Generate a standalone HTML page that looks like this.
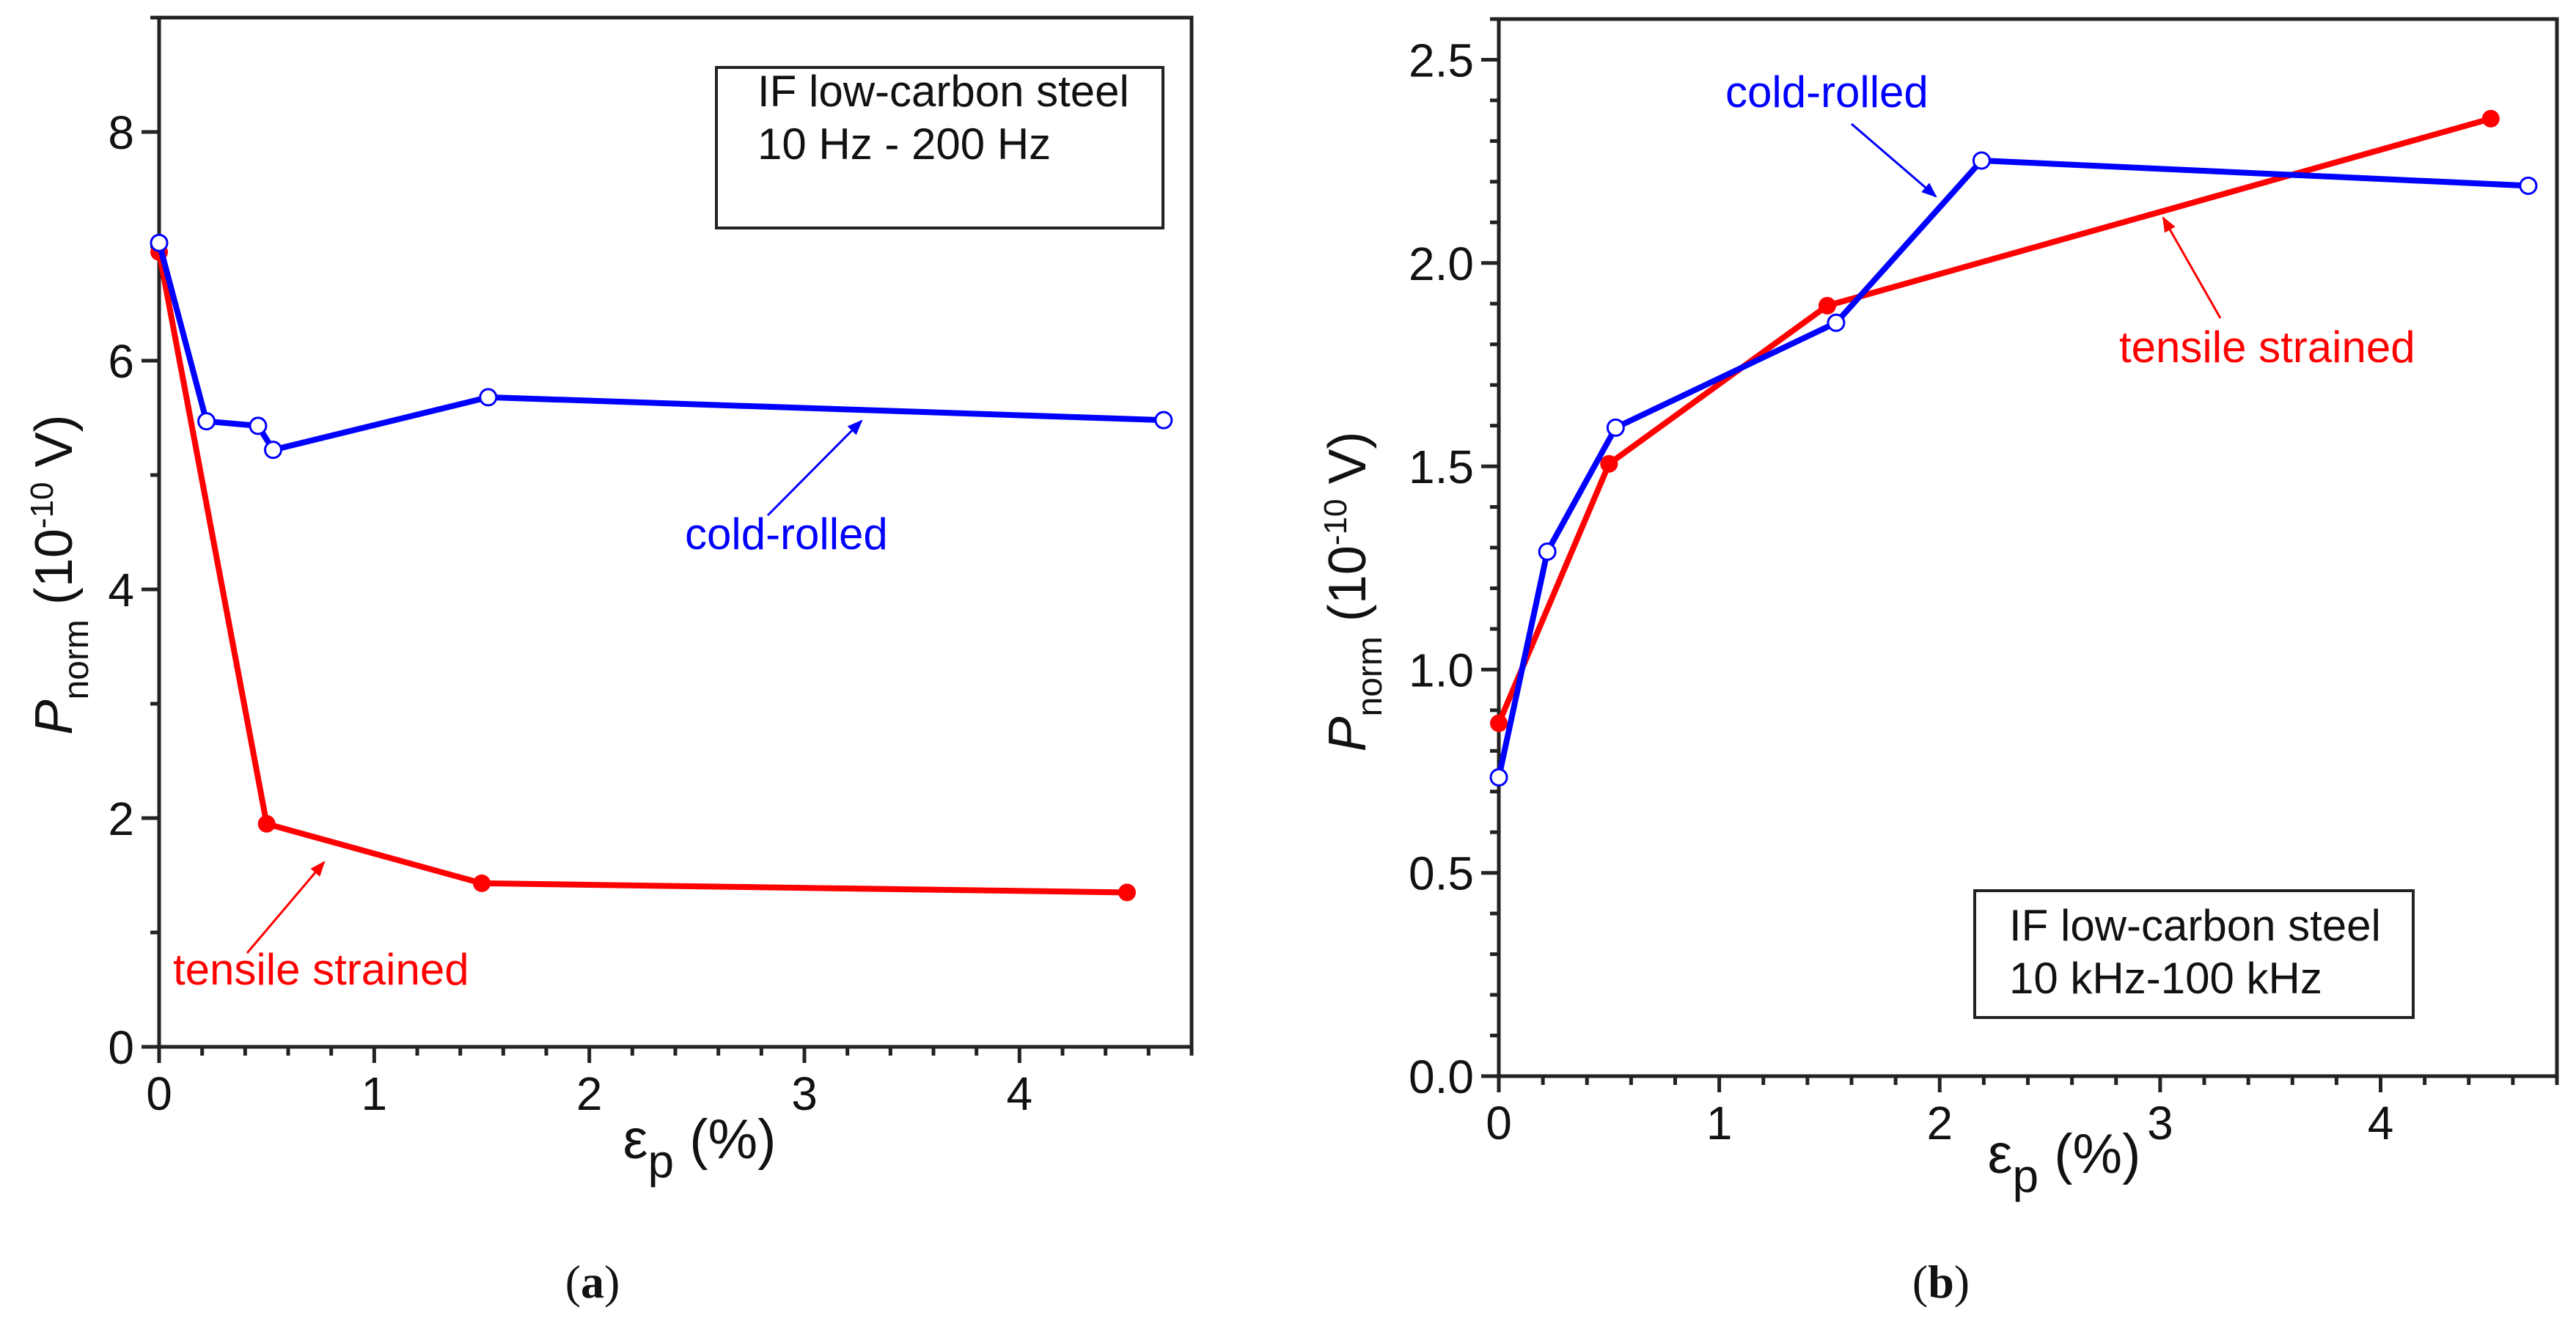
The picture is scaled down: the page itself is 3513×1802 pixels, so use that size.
<!DOCTYPE html>
<html><head><meta charset="utf-8"><style>
html,body{margin:0;padding:0;background:#fff;}
svg{display:block;font-family:"Liberation Sans",sans-serif;}
</style></head><body>
<svg id="fig" width="3513" height="1802" viewBox="0 0 3513 1802" xmlns="http://www.w3.org/2000/svg">
<rect width="3513" height="1802" fill="#fff"/>
</svg>
<script>
// Panel (a) data
const aColdX = [0, 0.22, 0.46, 0.53, 1.53, 4.67];
const aColdY = [7.03, 5.47, 5.43, 5.22, 5.68, 5.48];
const aTensX = [0, 0.5, 1.5, 4.5];
const aTensY = [6.95, 1.95, 1.43, 1.35];
const aXTicks = [0, 1, 2, 3, 4];
const aYTicks = [0, 2, 4, 6, 8];
// Panel (b) data
const bColdX = [0, 0.22, 0.53, 1.53, 2.19, 4.67];
const bColdY = [0.735, 1.29, 1.595, 1.853, 2.252, 2.19];
const bTensX = [0, 0.5, 1.49, 4.5];
const bTensY = [0.868, 1.506, 1.895, 2.355];
const bXTicks = [0, 1, 2, 3, 4];
const bYTicks = ["0.0", "0.5", "1.0", "1.5", "2.0", "2.5"];

const NS = "http://www.w3.org/2000/svg";
const svg = document.getElementById('fig');
function mk(tag, attrs, parent, text) {
  const e = document.createElementNS(NS, tag);
  for (const k in attrs) e.setAttribute(k, attrs[k]);
  if (text !== undefined) e.textContent = text;
  (parent || svg).appendChild(e);
  return e;
}

function panel(cfg) {
  const g = mk('g', {});
  
  
  const sx = v => cfg.x0 + (v - 0) / cfg.xmax * (cfg.x1 - cfg.x0);
  const sy = v => cfg.y0 - v / cfg.ymax * (cfg.y0 - cfg.y1);
  // frame
  const fr = mk('rect', {x: cfg.x0, y: cfg.y1, width: cfg.x1 - cfg.x0, height: cfg.y0 - cfg.y1, fill: 'none', stroke: '#222', 'stroke-width': 5}, g);
  
  
  // x ticks
  for (let i = 0; i * cfg.xMinor <= cfg.xmax + 1e-9; i++) {
    const v = i * cfg.xMinor;
    const major = Math.abs(v - Math.round(v)) < 1e-6;
    const t = mk('line', {x1: sx(v), x2: sx(v), y1: cfg.y0, y2: cfg.y0 + (major ? 22 : 12), stroke: '#222', 'stroke-width': 5}, g);
    
    
  }
  cfg.xTicks.forEach(v => {
    const t = mk('text', {x: sx(+v), y: cfg.y0 + 86, 'font-size': 64, 'text-anchor': 'middle', fill: '#111'}, g, String(v));
    
    
  });
  // y ticks
  for (let i = 0; i * cfg.yMinor <= cfg.ymax + 1e-9; i++) {
    const v = i * cfg.yMinor;
    const r = v / cfg.yMajor;
    const major = Math.abs(r - Math.round(r)) < 1e-6;
    const t = mk('line', {x1: cfg.x0 - (major ? 24 : 12), x2: cfg.x0, y1: sy(v), y2: sy(v), stroke: '#222', 'stroke-width': 5}, g);
    
    
  }
  cfg.yTicks.forEach(v => {
    const t = mk('text', {x: cfg.x0 - 34, y: sy(+v) + 23, 'font-size': 64, 'text-anchor': 'end', fill: '#111'}, g, String(v));
    
    
  });
  // series
  function series(xs, ys, color, filled, nm) {
    const pts = xs.map((x, i) => sx(x) + ',' + sy(ys[i])).join(' ');
    const l = mk('polyline', {points: pts, fill: 'none', stroke: color, 'stroke-width': 8, 'stroke-linejoin': 'round'}, g);
    
    
    xs.forEach((x, i) => {
      const c = mk('circle', {cx: sx(x), cy: sy(ys[i]), r: filled ? 12 : 11, fill: filled ? color : '#fff', stroke: color, 'stroke-width': filled ? 0 : 3}, g);
      
      
    });
  }
  series(cfg.tensX, cfg.tensY, '#ff0000', true, 'tensile-strained');
  series(cfg.coldX, cfg.coldY, '#0000ff', false, 'cold-rolled');
  return g;
}

const ga = panel({name: 'panel-a', x0: 217, x1: 1625, y0: 1428, y1: 24, xmax: 4.8, ymax: 9,
  xMinor: 0.2, yMinor: 1, yMajor: 2, xTicks: aXTicks, yTicks: aYTicks,
  coldX: aColdX, coldY: aColdY, tensX: aTensX, tensY: aTensY});
const gb = panel({name: 'panel-b', x0: 2044, x1: 3487, y0: 1468, y1: 26, xmax: 4.8, ymax: 2.6,
  xMinor: 0.2, yMinor: 0.1, yMajor: 0.5, xTicks: bXTicks, yTicks: bYTicks,
  coldX: bColdX, coldY: bColdY, tensX: bTensX, tensY: bTensY});
</script>
<svg width="0" height="0" style="position:absolute">
<defs>
<marker id="ab" viewBox="0 0 10 10" refX="9" refY="5" markerWidth="6" markerHeight="6" orient="auto"><path d="M0,1 L10,5 L0,9z" fill="#0000ff"/></marker>
<marker id="ar" viewBox="0 0 10 10" refX="9" refY="5" markerWidth="6" markerHeight="6" orient="auto"><path d="M0,1 L10,5 L0,9z" fill="#ff0000"/></marker>
</defs>
</svg>
<script>
const s = document.getElementById('fig');
const defs = document.createElementNS(NS, 'defs');
defs.innerHTML = '<marker id="abm" viewBox="0 0 10 10" refX="9" refY="5" markerWidth="7" markerHeight="7" orient="auto"><path d="M0,1 L10,5 L0,9z" fill="#0000ff"/></marker><marker id="arm" viewBox="0 0 10 10" refX="9" refY="5" markerWidth="7" markerHeight="7" orient="auto"><path d="M0,1 L10,5 L0,9z" fill="#ff0000"/></marker>';
s.insertBefore(defs, s.firstChild);

// Panel a annotations
let e;
e = mk('rect', {x: 977, y: 92, width: 609, height: 219, fill: '#fff', stroke: '#222', 'stroke-width': 4});


e = mk('text', {x: 1033, y: 145, 'font-size': 60, fill: '#111'}, svg, 'IF low-carbon steel');


e = mk('text', {x: 1033, y: 217, 'font-size': 60, fill: '#111'}, svg, '10 Hz - 200 Hz');


e = mk('text', {x: 934, y: 749, 'font-size': 60, fill: '#0000ff'}, svg, 'cold-rolled');


e = mk('line', {x1: 1047, y1: 703, x2: 1175, y2: 574, stroke: '#0000ff', 'stroke-width': 3, 'marker-end': 'url(#abm)'});


e = mk('text', {x: 236, y: 1343, 'font-size': 60, fill: '#ff0000'}, svg, 'tensile strained');


e = mk('line', {x1: 337, y1: 1300, x2: 442, y2: 1176, stroke: '#ff0000', 'stroke-width': 3, 'marker-end': 'url(#arm)'});



// Panel b annotations
e = mk('rect', {x: 2693, y: 1215, width: 598, height: 173, fill: '#fff', stroke: '#222', 'stroke-width': 4});


e = mk('text', {x: 2740, y: 1283, 'font-size': 60, fill: '#111'}, svg, 'IF low-carbon steel');


e = mk('text', {x: 2740, y: 1355, 'font-size': 60, fill: '#111'}, svg, '10 kHz-100 kHz');


e = mk('text', {x: 2353, y: 146, 'font-size': 60, fill: '#0000ff'}, svg, 'cold-rolled');


e = mk('line', {x1: 2525, y1: 169, x2: 2640, y2: 268, stroke: '#0000ff', 'stroke-width': 3, 'marker-end': 'url(#abm)'});


e = mk('text', {x: 2890, y: 494, 'font-size': 60, fill: '#ff0000'}, svg, 'tensile strained');


e = mk('line', {x1: 3028, y1: 434, x2: 2950, y2: 297, stroke: '#ff0000', 'stroke-width': 3, 'marker-end': 'url(#arm)'});



// Axis titles
function yTitle(cx, cy, nm) {
  const t = mk('text', {transform: 'translate(' + cx + ',' + cy + ') rotate(-90)', 'text-anchor': 'middle', 'font-size': 72, fill: '#111'});
  
  
  t.innerHTML = '<tspan font-style="italic">P</tspan><tspan font-size="48" dy="22">norm</tspan><tspan dy="-22"> (10</tspan><tspan font-size="44" dy="-26">-10</tspan><tspan dy="26"> V)</tspan>';
}
function xTitle(cx, cy, nm) {
  const t = mk('text', {x: cx, y: cy, 'text-anchor': 'middle', 'font-size': 76, fill: '#111'});
  
  
  t.innerHTML = '<tspan>ε</tspan><tspan font-size="64" dy="26">p</tspan><tspan dy="-26"> (%)</tspan>';
}
yTitle(98, 784, 'y-axis-title-a');
xTitle(954, 1580, 'x-axis-title-a');
yTitle(1862, 807, 'y-axis-title-b');
xTitle(2815, 1600, 'x-axis-title-b');

e = mk('text', {x: 808, y: 1770, 'text-anchor': 'middle', 'font-size': 64, 'font-family': '"Liberation Serif",serif', fill: '#111'});


e.innerHTML = '(<tspan font-weight="bold">a</tspan>)';
e = mk('text', {x: 2647, y: 1770, 'text-anchor': 'middle', 'font-size': 64, 'font-family': '"Liberation Serif",serif', fill: '#111'});


e.innerHTML = '(<tspan font-weight="bold">b</tspan>)';
</script>
</body></html>
